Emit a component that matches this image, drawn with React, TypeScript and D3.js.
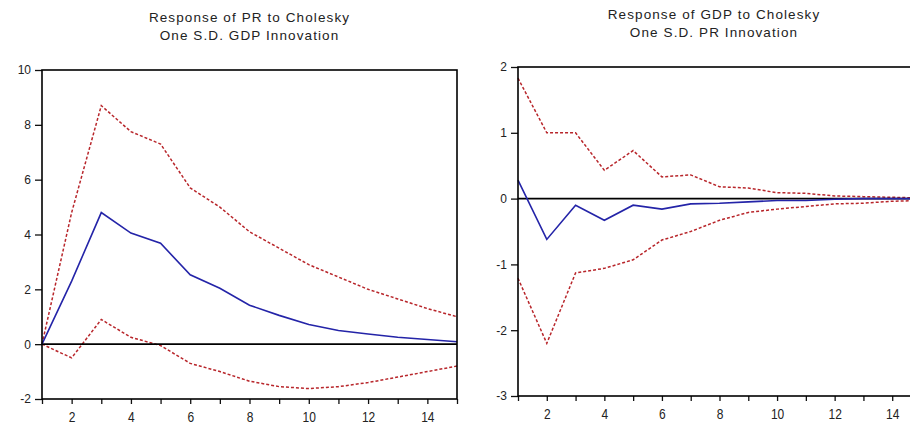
import React, { useRef, useEffect } from "react";
import * as d3 from "d3";

// periods 1..15
const PERIODS = d3.range(1, 16);

// Response of PR to Cholesky One S.D. GDP Innovation
const PR_RESP = [0, 2.3, 4.8, 4.05, 3.68, 2.53, 2.04, 1.42, 1.05, 0.72, 0.5, 0.37, 0.25, 0.17, 0.09];
const PR_UPPER = [0, 4.8, 8.7, 7.75, 7.3, 5.7, 5.0, 4.1, 3.5, 2.9, 2.45, 2.0, 1.65, 1.3, 1.0];
const PR_LOWER = [0, -0.5, 0.9, 0.25, -0.05, -0.7, -1.0, -1.35, -1.55, -1.62, -1.55, -1.4, -1.2, -1.0, -0.8];

// Response of GDP to Cholesky One S.D. PR Innovation
const GDP_RESP = [0.28, -0.62, -0.1, -0.33, -0.1, -0.16, -0.08, -0.07, -0.05, -0.03, -0.03, -0.01, 0, 0, 0];
const GDP_UPPER = [1.83, 1.0, 1.0, 0.43, 0.73, 0.33, 0.36, 0.18, 0.16, 0.09, 0.08, 0.04, 0.03, 0.02, 0.01];
const GDP_LOWER = [-1.21, -2.2, -1.13, -1.06, -0.93, -0.63, -0.5, -0.33, -0.21, -0.16, -0.12, -0.08, -0.07, -0.04, -0.03];

const PR_TICKS = [-2, 0, 2, 4, 6, 8, 10];
const GDP_TICKS = [-3, -2, -1, 0, 1, 2];
const X_LABELS = [2, 4, 6, 8, 10, 12, 14];

const FONT = "'Liberation Sans', Arial, sans-serif";
const RED = "#b8262b";
const BLUE = "#2424a8";

const PANELS = [
  {
    title: ["Response of PR to Cholesky", "One S.D. GDP Innovation"],
    titleY: [22, 40],
    left: 42, right: 457, top: 70, bottom: 399,
    yDomain: [-2, 10], yTicks: PR_TICKS,
    resp: PR_RESP, upper: PR_UPPER, lower: PR_LOWER,
  },
  {
    title: ["Response of GDP to Cholesky", "One S.D. PR Innovation"],
    titleY: [19, 37],
    left: 518, right: 921, top: 67, bottom: 396,
    yDomain: [-3, 2], yTicks: GDP_TICKS,
    resp: GDP_RESP, upper: GDP_UPPER, lower: GDP_LOWER,
  },
];

export default function App() {
  const svgRef = useRef(null);

  useEffect(() => {
    const svg = d3.select(svgRef.current);
    svg.selectAll("*").remove();

    PANELS.forEach((p) => {
      const x = d3.scaleLinear().domain([1, 15]).range([p.left, p.right]);
      const y = d3.scaleLinear().domain(p.yDomain).range([p.bottom, p.top]);
      const g = svg.append("g");

      // title
      const cx = (p.left + Math.min(p.right, 910)) / 2;
      p.title.forEach((t, i) => {
        g.append("text")
          .attr("x", cx)
          .attr("y", p.titleY[i])
          .attr("text-anchor", "middle")
          .style("font-family", FONT)
          .style("font-size", "13.5px")
          .style("letter-spacing", "1.1px")
          .style("fill", "#222")
          .text(t);
      });

      // y axis
      const yAxis = g.append("g")
        .attr("transform", `translate(${p.left},0)`)
        .call(d3.axisLeft(y).tickValues(p.yTicks).tickSize(7).tickPadding(4).tickFormat((d) => String(d)));
      yAxis.select(".domain").remove();
      yAxis.selectAll("line").attr("stroke", "#111").attr("stroke-width", 1.3);
      yAxis.selectAll("text")
        .style("font-family", FONT)
        .style("font-size", "12px")
        .style("fill", "#222");

      // x axis
      const xAxis = g.append("g")
        .attr("transform", `translate(0,${p.bottom})`)
        .call(d3.axisBottom(x).tickValues(PERIODS).tickSize(5).tickPadding(6)
          .tickFormat((d) => (X_LABELS.includes(d) ? String(d) : "")));
      xAxis.select(".domain").remove();
      xAxis.selectAll("line").attr("stroke", "#111").attr("stroke-width", 1.3);
      xAxis.selectAll("text")
        .style("font-family", FONT)
        .style("font-size", "12px")
        .style("fill", "#222")
        .attr("transform", "scale(1,1.2)");

      // bands
      const line = d3.line().x((d, i) => x(PERIODS[i])).y((d) => y(d));
      [p.upper, p.lower].forEach((band) => {
        g.append("path")
          .attr("d", line(band))
          .attr("fill", "none")
          .attr("stroke", RED)
          .attr("stroke-width", 1.5)
          .attr("stroke-dasharray", "3,2");
      });

      // zero line
      g.append("line")
        .attr("x1", p.left).attr("x2", p.right)
        .attr("y1", y(0)).attr("y2", y(0))
        .attr("stroke", "#000")
        .attr("stroke-width", 1.6);

      g.append("path")
        .attr("d", line(p.resp))
        .attr("fill", "none")
        .attr("stroke", BLUE)
        .attr("stroke-width", 1.6);

      // frame
      g.append("rect")
        .attr("x", p.left).attr("y", p.top)
        .attr("width", p.right - p.left).attr("height", p.bottom - p.top)
        .attr("fill", "none")
        .attr("stroke", "#000")
        .attr("stroke-width", 1.6);
    });
  }, []);

  return (
    <svg
      ref={svgRef}
      width={910}
      height={427}
      style={{ position: "absolute", left: 0, top: 0, background: "#fff" }}
    />
  );
}
